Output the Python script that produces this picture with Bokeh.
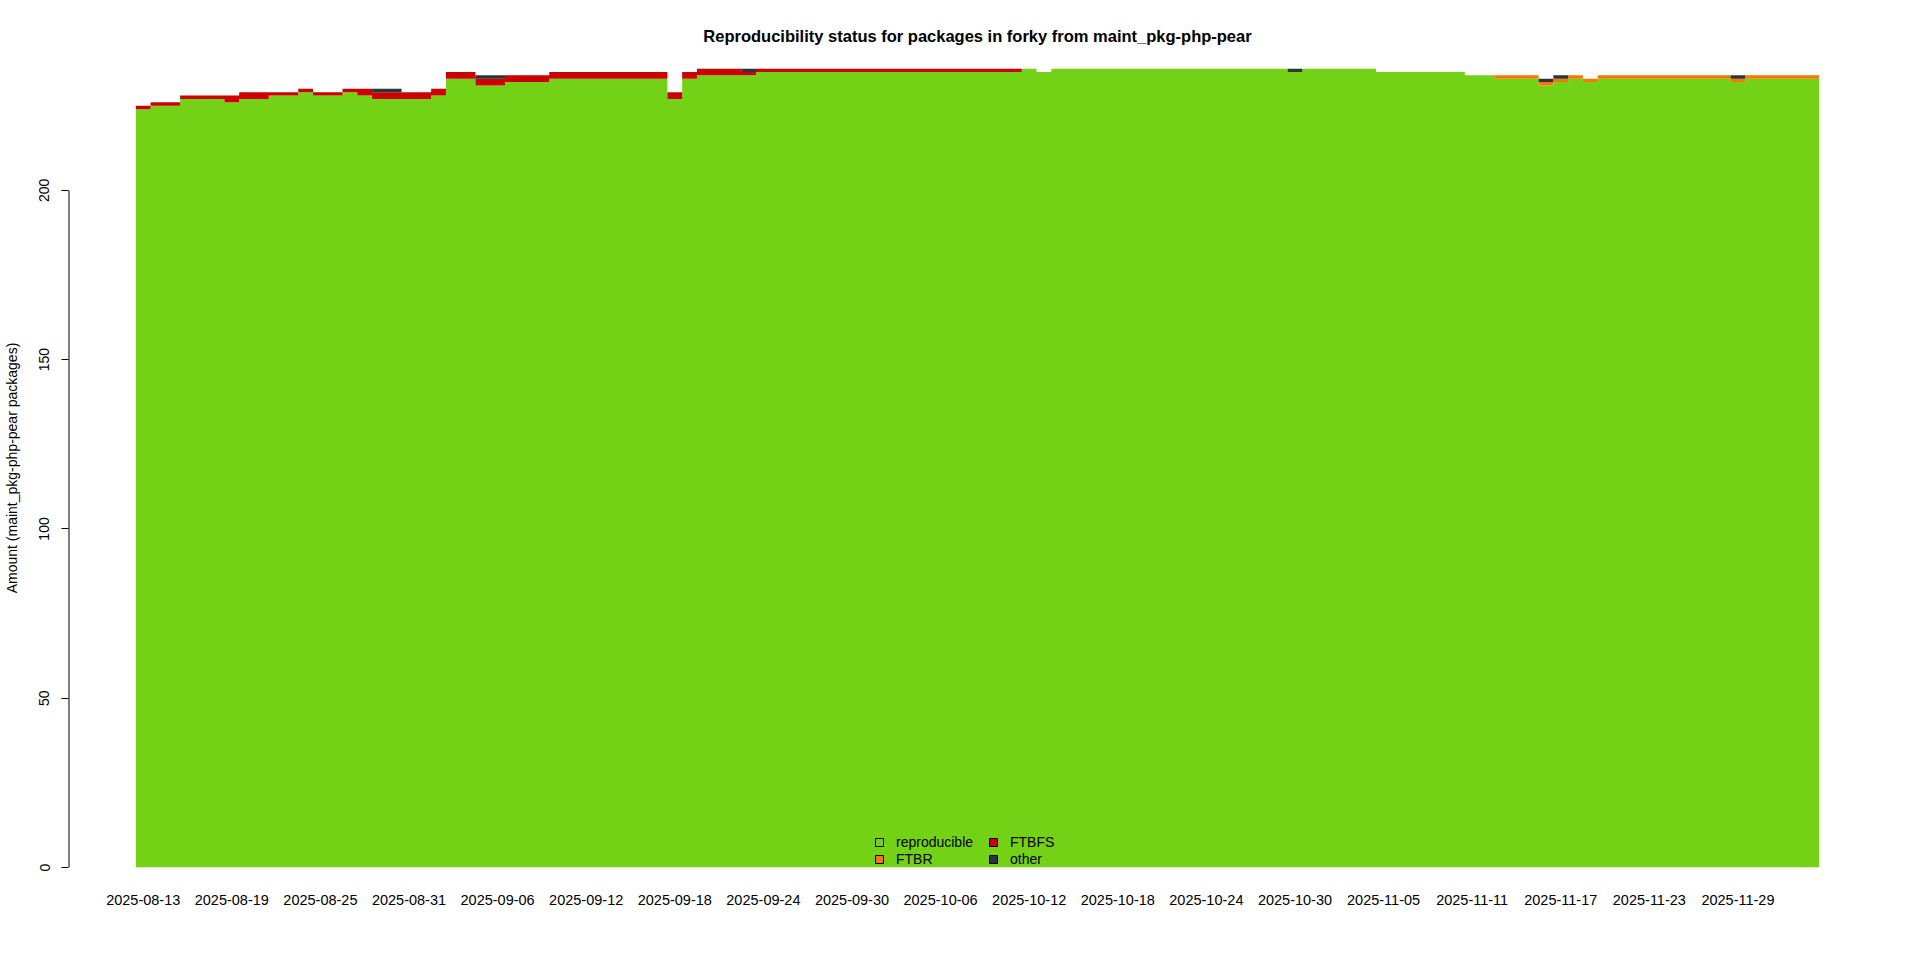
import numpy as np
import pandas as pd
from bokeh.plotting import figure
from bokeh.models import ColumnDataSource, FixedTicker, Legend, LegendItem, Range1d
from bokeh.embed import file_html
from bokeh.resources import INLINE

# ---------------- data ----------------
start_date = "2025-08-13"
n_days = 114
dates = [d.strftime("%Y-%m-%d") for d in pd.date_range(start_date, periods=n_days)]

reproducible = [
    224, 225, 225, 227, 227, 227, 226, 227, 227, 228,
    228, 229, 228, 228, 229, 228, 227, 227, 227, 227,
    228, 233, 233, 231, 231, 232, 232, 232, 233, 233,
    233, 233, 233, 233, 233, 233, 227, 233, 234, 234,
    234, 234, 235, 235, 235, 235, 235, 235, 235, 235,
    235, 235, 235, 235, 235, 235, 235, 235, 235, 235,
    236, 235, 236, 236, 236, 236, 236, 236, 236, 236,
    236, 236, 236, 236, 236, 236, 236, 236, 235, 236,
    236, 236, 236, 236, 235, 235, 235, 235, 235, 235,
    234, 234, 233, 233, 233, 231, 232, 233, 232, 233,
    233, 233, 233, 233, 233, 233, 233, 233, 232, 233,
    233, 233, 233, 233,
]
ftbr = [
    0, 0, 0, 0, 0, 0, 0, 0, 0, 0,
    0, 0, 0, 0, 0, 0, 0, 0, 0, 0,
    0, 0, 0, 0, 0, 0, 0, 0, 0, 0,
    0, 0, 0, 0, 0, 0, 0, 0, 0, 0,
    0, 0, 0, 0, 0, 0, 0, 0, 0, 0,
    0, 0, 0, 0, 0, 0, 0, 0, 0, 0,
    0, 0, 0, 0, 0, 0, 0, 0, 0, 0,
    0, 0, 0, 0, 0, 0, 0, 0, 0, 0,
    0, 0, 0, 0, 0, 0, 0, 0, 0, 0,
    0, 0, 1, 1, 1, 1, 1, 1, 1, 1,
    1, 1, 1, 1, 1, 1, 1, 1, 1, 1,
    1, 1, 1, 1,
]
ftbfs = [
    1, 1, 1, 1, 1, 1, 2, 2, 2, 1,
    1, 1, 1, 1, 1, 2, 2, 2, 2, 2,
    2, 2, 2, 2, 2, 2, 2, 2, 2, 2,
    2, 2, 2, 2, 2, 2, 2, 2, 2, 2,
    2, 1, 1, 1, 1, 1, 1, 1, 1, 1,
    1, 1, 1, 1, 1, 1, 1, 1, 1, 1,
    0, 0, 0, 0, 0, 0, 0, 0, 0, 0,
    0, 0, 0, 0, 0, 0, 0, 0, 0, 0,
    0, 0, 0, 0, 0, 0, 0, 0, 0, 0,
    0, 0, 0, 0, 0, 0, 0, 0, 0, 0,
    0, 0, 0, 0, 0, 0, 0, 0, 0, 0,
    0, 0, 0, 0,
]
other = [
    0, 0, 0, 0, 0, 0, 0, 0, 0, 0,
    0, 0, 0, 0, 0, 0, 1, 1, 0, 0,
    0, 0, 0, 1, 1, 0, 0, 0, 0, 0,
    0, 0, 0, 0, 0, 0, 0, 0, 0, 0,
    0, 1, 0, 0, 0, 0, 0, 0, 0, 0,
    0, 0, 0, 0, 0, 0, 0, 0, 0, 0,
    0, 0, 0, 0, 0, 0, 0, 0, 0, 0,
    0, 0, 0, 0, 0, 0, 0, 0, 1, 0,
    0, 0, 0, 0, 0, 0, 0, 0, 0, 0,
    0, 0, 0, 0, 0, 1, 1, 0, 0, 0,
    0, 0, 0, 0, 0, 0, 0, 0, 1, 0,
    0, 0, 0, 0,
]

series_names = ["reproducible", "FTBR", "FTBFS", "other"]
series_colors = ["#73d216", "#f57900", "#cc0000", "#2e3436"]

tick_labels = [
    "2025-08-13", "2025-08-19", "2025-08-25", "2025-08-31", "2025-09-06",
    "2025-09-12", "2025-09-18", "2025-09-24", "2025-09-30", "2025-10-06",
    "2025-10-12", "2025-10-18", "2025-10-24", "2025-10-30", "2025-11-05",
    "2025-11-11", "2025-11-17", "2025-11-23", "2025-11-29",
]
y_ticks = [0, 50, 100, 150, 200]

title_text = "Reproducibility status for packages in forky from maint_pkg-php-pear"
y_title = "Amount (maint_pkg-php-pear packages)"

# ---------------- plot ----------------
FONT = "Liberation Sans"
series_values = [reproducible, ftbr, ftbfs, other]
stack = np.vstack([np.zeros(n_days)] + [np.cumsum(np.array(series_values), axis=0)])
totals = stack[-1]

pad = 0.04 * n_days
x_range = Range1d(-0.5 - pad, n_days - 0.5 + pad)
y_range = Range1d(0, float(totals.max()))

p = figure(width=1912, height=952, x_range=x_range, y_range=y_range,
           output_backend="svg", toolbar_location=None,
           min_border_left=67, min_border_right=26, min_border_top=68,
           min_border_bottom=85, title=title_text)

# stacked step areas, one day per step
x_edges = np.arange(n_days + 1) - 0.5
for k, col in enumerate(series_colors):
    y_lo = np.append(stack[k], stack[k][-1])
    y_hi = np.append(stack[k + 1], stack[k + 1][-1])
    p.varea_step(x=x_edges, y1=y_lo, y2=y_hi, step_mode="after", fill_color=col)

# legend swatches with black outline
dummy = ColumnDataSource(data=dict(x=[np.nan], top=[np.nan]))
items = []
for name, col in zip(series_names, series_colors):
    r = p.vbar(x="x", top="top", width=1, source=dummy, fill_color=col,
               line_color="black", line_width=1)
    items.append(LegendItem(label=name, renderers=[r]))

legend = Legend(items=items, orientation="vertical", ncols=2, location=(806, 0),
                padding=0, margin=0, spacing=0, glyph_width=10, glyph_height=10,
                label_standoff=12, label_width=92, label_height=17,
                label_text_font=FONT, label_text_font_size="14px",
                label_text_color="black", background_fill_alpha=0,
                border_line_color=None)
p.add_layout(legend)

# y axis line only from 0 to 200 (R style)
p.segment(x0=[x_range.start], y0=[y_ticks[0]], x1=[x_range.start], y1=[y_ticks[-1]],
          line_color="black", line_width=2)

p.title.text_font = FONT
p.title.text_font_size = "16.5px"
p.title.text_font_style = "bold"
p.title.text_color = "black"
p.title.align = "center"
p.title.standoff = 47

p.outline_line_color = None
p.xgrid.visible = False
p.ygrid.visible = False
p.background_fill_color = "white"

# x axis
tick_pos = [dates.index(t) for t in tick_labels]
p.xaxis.ticker = FixedTicker(ticks=tick_pos)
p.xaxis.major_label_overrides = {i: t for i, t in zip(tick_pos, tick_labels)}
p.xaxis.axis_line_color = None
p.xaxis.major_tick_line_color = None
p.xaxis.minor_tick_line_color = None
p.xaxis.major_tick_out = 0
p.xaxis.major_tick_in = 0
p.xaxis.major_label_standoff = 27
p.xaxis.major_label_text_font = FONT
p.xaxis.major_label_text_font_size = "14.5px"
p.xaxis.major_label_text_color = "black"

# y axis
p.yaxis.ticker = FixedTicker(ticks=y_ticks)
p.yaxis.axis_line_color = None
p.yaxis.minor_tick_line_color = None
p.yaxis.major_tick_out = 7
p.yaxis.major_tick_in = 0
p.yaxis.major_tick_line_color = "black"
p.yaxis.major_label_orientation = "vertical"
p.yaxis.major_label_standoff = 12
p.yaxis.major_label_text_font = FONT
p.yaxis.major_label_text_font_size = "14px"
p.yaxis.major_label_text_color = "black"
p.yaxis.axis_label = y_title
p.yaxis.axis_label_text_font = FONT
p.yaxis.axis_label_text_font_size = "14px"
p.yaxis.axis_label_text_font_style = "normal"
p.yaxis.axis_label_text_color = "black"
p.yaxis.axis_label_standoff = 17

open("out.html", "w").write(file_html(p, INLINE))
